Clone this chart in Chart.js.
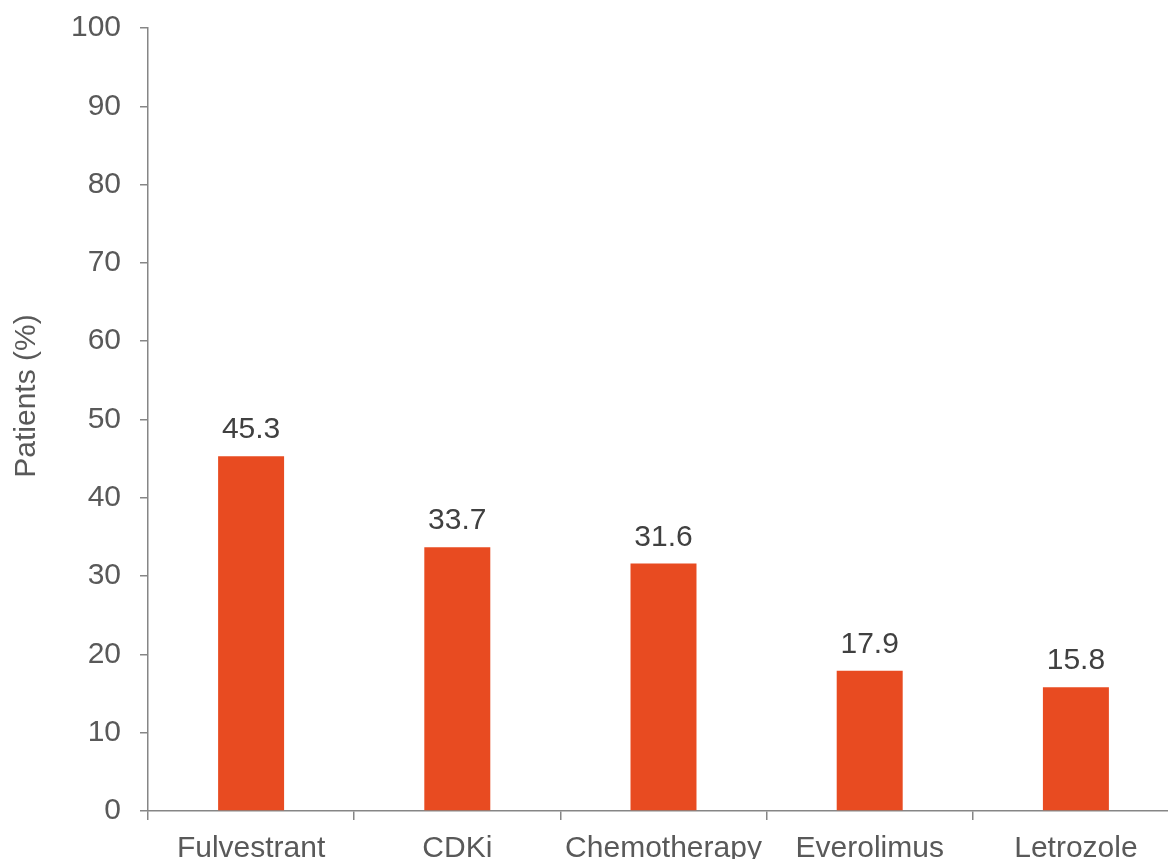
<!DOCTYPE html>
<html>
<head>
<meta charset="utf-8">
<script src="https://cdn.jsdelivr.net/npm/chart.js@4"></script>
<style>
  html, body { margin: 0; padding: 0; background: #ffffff; overflow: hidden; }
  #wrap { position: relative; width: 1179px; height: 859px; }
</style>
</head>
<body>
<div id="wrap"><canvas id="chart"></canvas></div>
<script>
// Share of patients by subsequent treatment
const categories = ['Fulvestrant', 'CDKi', 'Chemotherapy', 'Everolimus', 'Letrozole'];
const patientsPct = [45.3, 33.7, 31.6, 17.9, 15.8];
const yTicks = [0, 10, 20, 30, 40, 50, 60, 70, 80, 90, 100];
const yTitle = 'Patients (%)';

const FONT = 'Liberation Sans, Arial, Helvetica, sans-serif';
const FONT_SIZE = 30;
const AXIS_GREY = '#868686';
const TEXT_GREY = '#595959';
const BAR_ORANGE = '#E84B21';

// Writes each bar's value just above it
const valueLabels = {
  id: 'valueLabels',
  afterDatasetsDraw(chart) {
    const ctx = chart.ctx;
    const meta = chart.getDatasetMeta(0);
    ctx.save();
    ctx.font = FONT_SIZE + 'px ' + FONT;
    ctx.fillStyle = '#404040';
    ctx.textAlign = 'center';
    ctx.textBaseline = 'alphabetic';
    meta.data.forEach((bar, i) => {
      ctx.fillText(patientsPct[i].toFixed(1), bar.x, bar.y - 18);
    });
    ctx.restore();
  }
};

// Rotated y-axis title, sitting a little above the middle of the plot
const yAxisTitle = {
  id: 'yAxisTitle',
  afterDraw(chart) {
    const ctx = chart.ctx;
    const area = chart.chartArea;
    const yScale = chart.scales.y;
    ctx.save();
    ctx.font = FONT_SIZE + 'px ' + FONT;
    ctx.fillStyle = TEXT_GREY;
    ctx.textAlign = 'center';
    ctx.textBaseline = 'middle';
    ctx.translate(yScale.left + 27, area.top + (area.bottom - area.top) * 0.47);
    ctx.rotate(-Math.PI / 2);
    ctx.fillText(yTitle, 0, 0);
    ctx.restore();
  }
};

new Chart(document.getElementById('chart'), {
  type: 'bar',
  data: {
    labels: categories,
    datasets: [{
      data: patientsPct,
      backgroundColor: BAR_ORANGE,
      borderWidth: 0,
      categoryPercentage: 1,
      barPercentage: 0.32
    }]
  },
  options: {
    responsive: true,
    maintainAspectRatio: false,
    animation: false,
    devicePixelRatio: 1,
    layout: { padding: { top: 28, right: 0, bottom: 0, left: 0 } },
    plugins: {
      legend: { display: false },
      tooltip: { enabled: false }
    },
    scales: {
      x: {
        offset: true,
        grid: {
          offset: true,
          drawOnChartArea: false,
          drawTicks: true,
          tickLength: 9,
          color: AXIS_GREY,
          lineWidth: 1.5
        },
        border: { display: true, color: AXIS_GREY, width: 1.5 },
        ticks: {
          color: TEXT_GREY,
          font: { family: FONT, size: FONT_SIZE },
          padding: 11,
          maxRotation: 0,
          autoSkip: false
        },
        afterFit(scale) {
          scale.height = 48;
          scale.paddingLeft = 0;
          scale.paddingRight = 0;
        }
      },
      y: {
        min: 0,
        max: 100,
        afterBuildTicks(scale) { scale.ticks = yTicks.map(v => ({ value: v })); },
        grid: {
          drawOnChartArea: false,
          drawTicks: true,
          tickLength: 8,
          color: AXIS_GREY,
          lineWidth: 1.5
        },
        border: { display: true, color: AXIS_GREY, width: 1.5 },
        ticks: {
          color: TEXT_GREY,
          font: { family: FONT, size: FONT_SIZE },
          padding: 19
        },
        title: { display: false },
        afterFit(scale) {
          scale.width = 148;
          scale.paddingTop = 0;
          scale.paddingBottom = 0;
        }
      }
    }
  },
  plugins: [valueLabels, yAxisTitle]
});
</script>
</body>
</html>
